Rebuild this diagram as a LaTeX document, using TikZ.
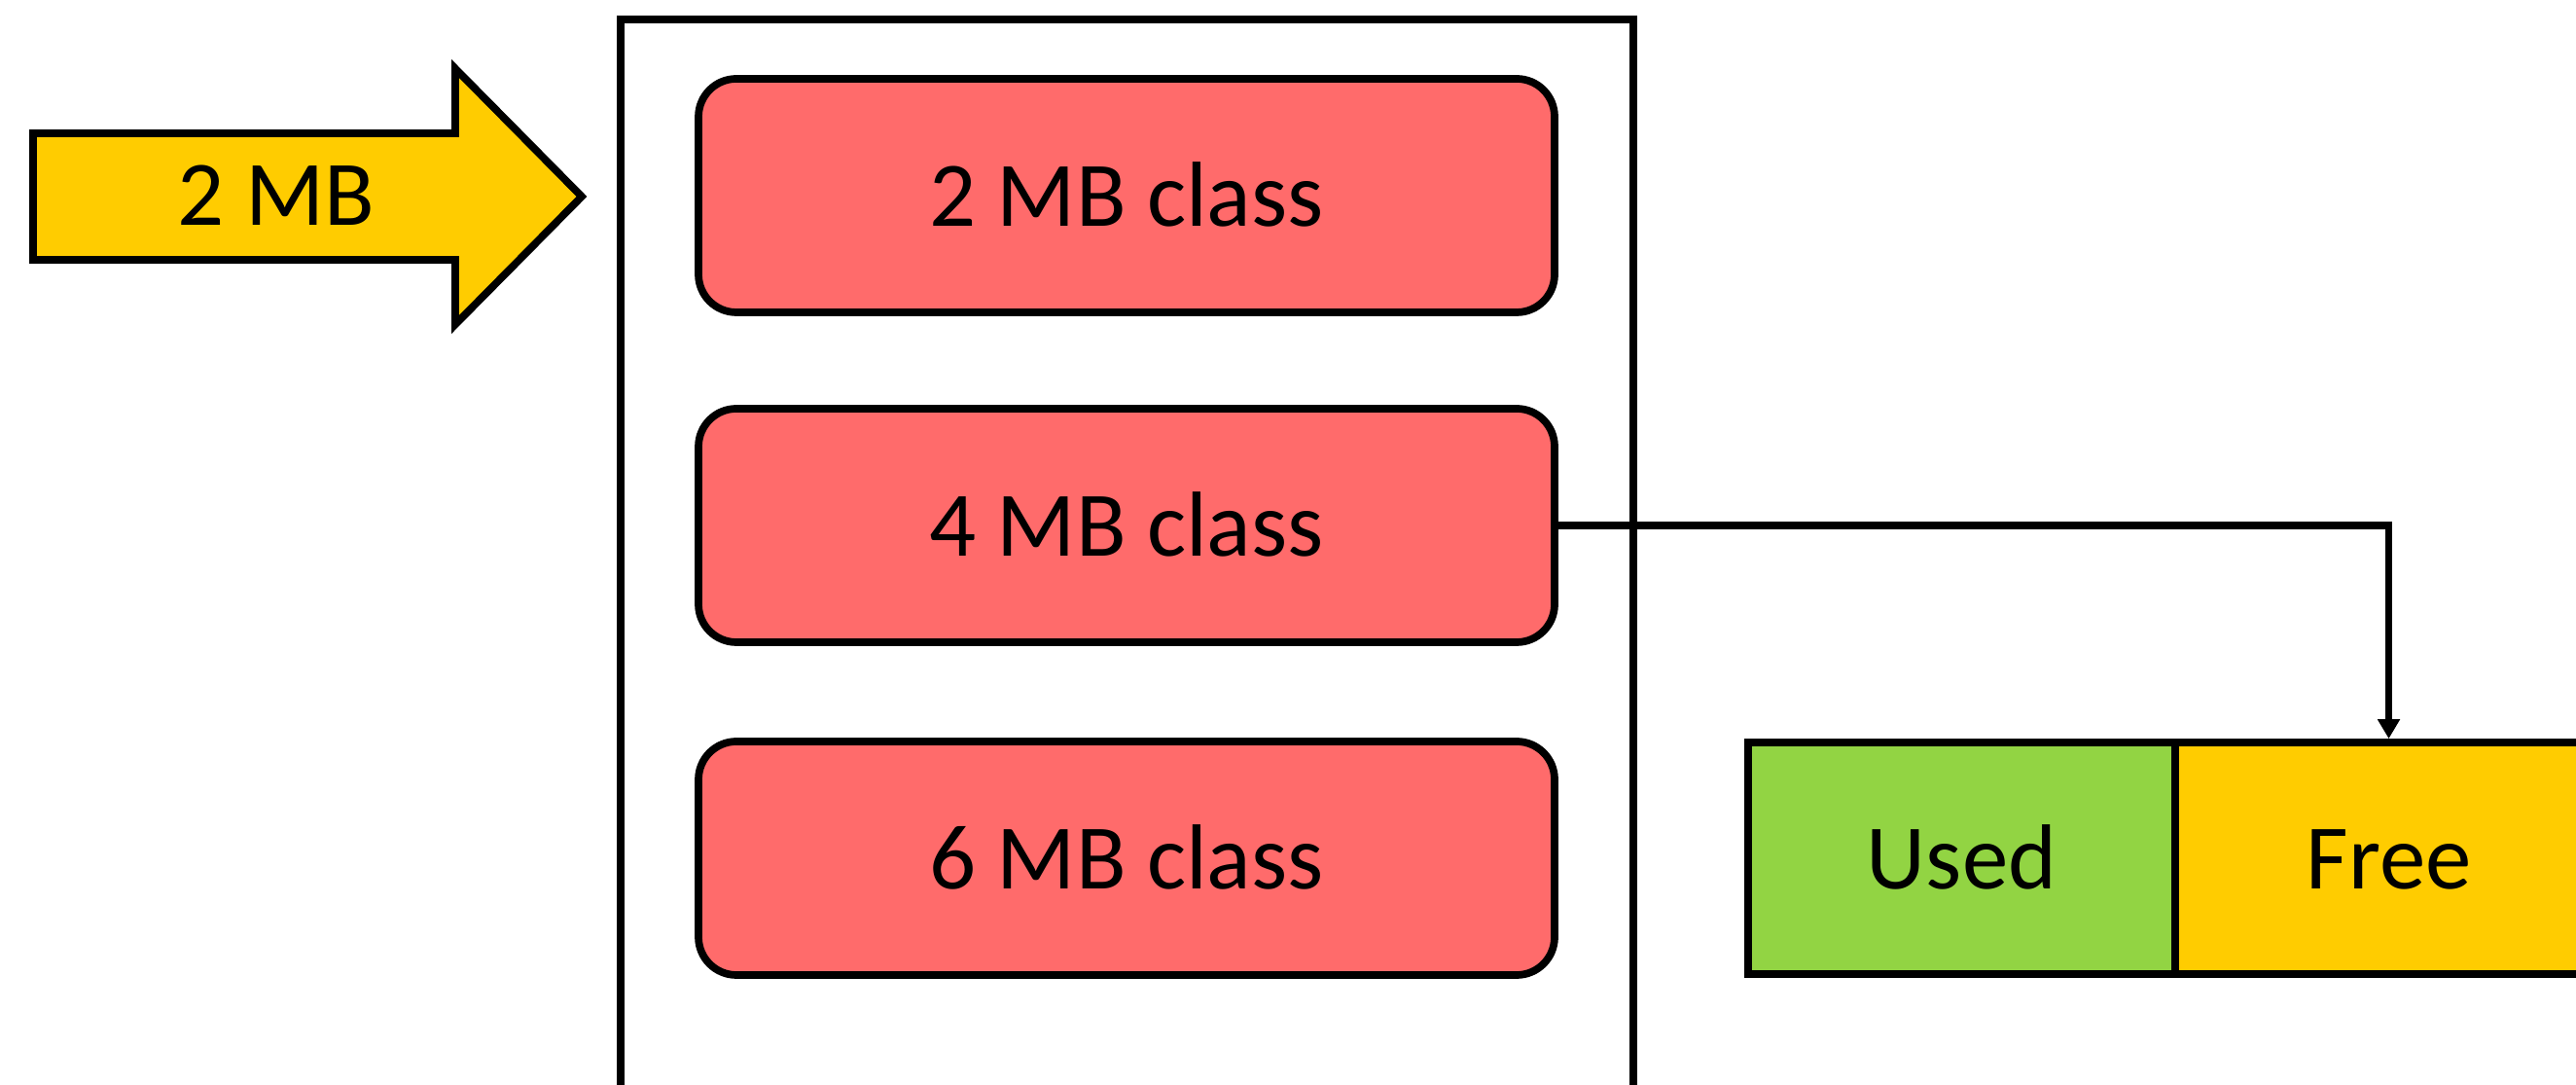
\documentclass[tikz,border=0pt]{standalone}
\usepackage{fontspec}
\setmainfont{Carlito}
\usetikzlibrary{arrows.meta}

\definecolor{classred}{HTML}{FF6B6B}
\definecolor{reqyellow}{HTML}{FFCC00}
\definecolor{usedgreen}{HTML}{92D443}

\tikzset{
  classbox/.style={draw, line width=2.2pt, fill=classred, rounded corners=0.39cm,
    minimum width=8.8cm, minimum height=2.4cm, text height=0.64cm, text depth=0cm},
  slotbox/.style={draw, line width=2.2pt, minimum width=4.39cm, minimum height=2.38cm,
    text height=0.64cm, text depth=0cm},
}

\begin{document}
\begin{tikzpicture}[font=\fontsize{27}{32}\selectfont]
    \useasboundingbox (0,0) rectangle (26.48,11.15);

    \draw[line width=2.2pt] (6.38,-1) -- (6.38,10.95) -- (16.79,10.95) -- (16.79,-1);

    \filldraw[fill=reqyellow, line width=2.2pt] (0.34,9.78) -- (4.68,9.78) -- (4.68,10.445)
      -- (5.98,9.13) -- (4.68,7.815) -- (4.68,8.48) -- (0.34,8.48) -- cycle;
    \node[text height=0.6cm, text depth=0cm] (req) at (2.84,9.13) {2 MB};

    \node[classbox] (c2) at (11.58,9.14) {2 MB class};
    \node[classbox] (c4) at (11.58,5.75) {4 MB class};
    \node[classbox] (c6) at (11.58,2.33) {6 MB class};

    \node[slotbox, fill=usedgreen] (used) at (20.165,2.33) {Used};
    \node[slotbox, fill=reqyellow] (free) at (24.555,2.33) {Free};

    \draw[line width=2.2pt, -{Triangle[length=0.2cm,width=0.22cm]}] (c4.east) -| (free.north);
\end{tikzpicture}
\end{document}
